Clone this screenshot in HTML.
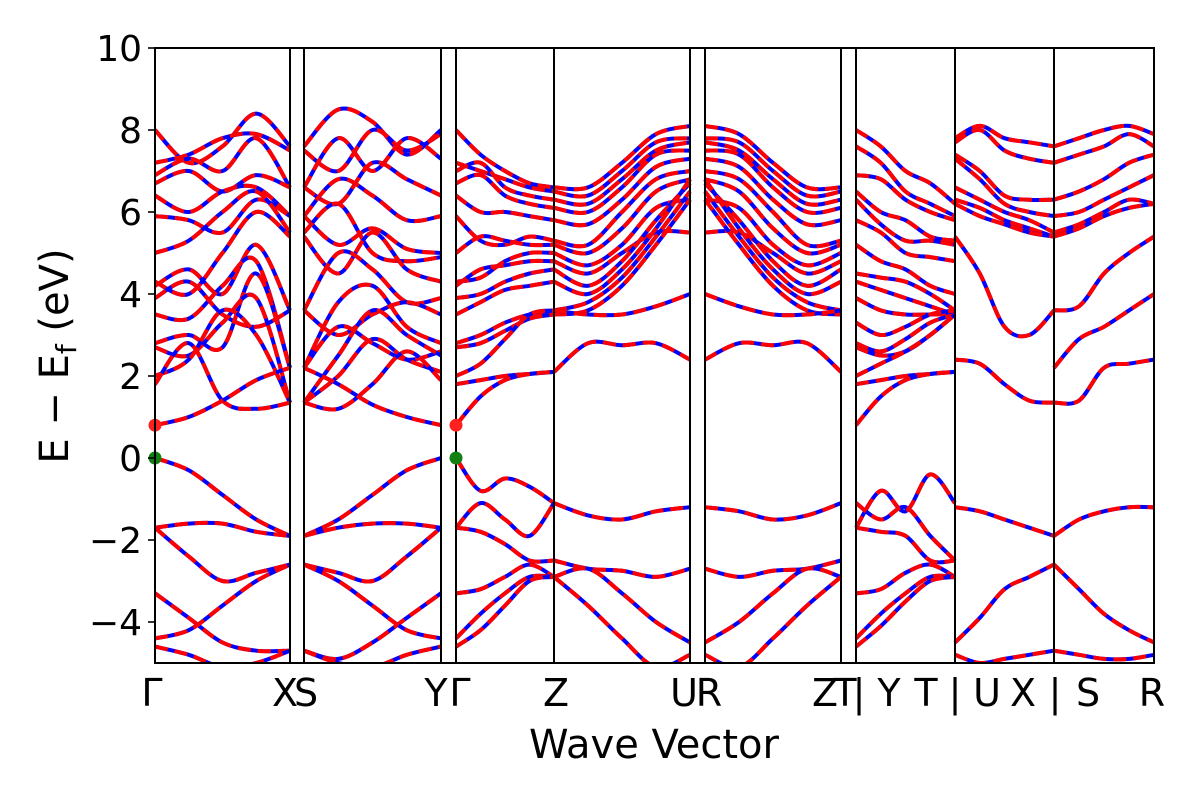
<!DOCTYPE html>
<html><head><meta charset="utf-8"><style>
body{margin:0;background:#fff;width:1200px;height:800px;overflow:hidden;font-family:"DejaVu Sans","Liberation Sans",sans-serif}
</style></head><body>
<svg id="chart" width="1200" height="800" xmlns="http://www.w3.org/2000/svg"></svg>
<script>
const yTicks=[10,8,6,4,2,0,-2,-4];
const yTickLabels=["10","8","6","4","2","0","\u22122","\u22124"];
const kLines=[155,290,304,441,456,554,690,705,841,856,955,1054,1154];
const kLabels=[["Γ",152],["X",285],["S",306],["Y",436],["Γ",460],["Z",556],["U",684],["R",709],["Z",825],["T",845],["|",859],["Y",889],["T",926],["|",955],["U",987],["X",1023],["|",1055],["S",1088],["R",1152]];
const segments=[[155,290],[304,441],[456,554],[554,690],[705,841],[856,955],[955,1054],[1054,1154]];
const bands0=[[8.0,7.2,7.6,8.4,7.6],[7.2,7.4,7.8,7.9,7.5],[6.9,7.3,7.0,7.8,6.6],[6.7,7.0,6.5,6.9,6.6],[6.4,6.0,6.5,6.6,5.9],[5.9,5.8,5.5,6.3,5.9],[5.0,5.3,6.0,6.5,5.5],[4.3,4.0,5.0,6.0,5.4],[4.2,4.6,4.0,5.2,3.6],[3.9,4.3,3.5,3.2,3.6],[3.5,3.4,4.2,4.8,2.2],[2.8,3.0,2.7,4.5,2.2],[2.7,2.5,3.3,3.9,1.35],[2.0,2.4,3.6,3.0,1.35],[1.8,2.8,1.4,1.2,1.35],[0.8,1.0,1.4,1.9,2.2],[0,-0.3,-0.9,-1.5,-1.9],[-1.7,-1.6,-1.6,-1.8,-1.9],[-1.7,-2.4,-3.0,-2.8,-2.6],[-3.3,-3.9,-4.5,-4.7,-4.7],[-4.4,-4.2,-3.6,-3.0,-2.6],[-4.6,-4.8,-5.1,-5.0,-4.7]];
const bands1=[[7.6,8.5,8.2,7.4,8.0],[7.5,7.0,8.0,7.5,7.9],[6.6,7.8,7.0,7.8,7.3],[6.6,6.2,7.2,6.8,6.4],[5.9,6.8,6.4,5.8,5.9],[5.9,5.2,5.6,5.1,5.0],[5.5,6.2,5.0,4.8,4.9],[5.4,4.5,5.5,4.6,4.3],[3.6,5.0,4.6,3.8,3.9],[3.6,3.0,3.5,3.8,3.5],[2.2,3.8,4.2,3.2,2.8],[2.2,3.2,2.8,2.4,2.6],[1.35,2.5,3.6,3.0,2.5],[1.35,2.0,2.9,2.4,2.1],[1.35,1.2,1.8,2.6,1.9],[2.2,1.8,1.3,1.0,0.8],[-1.9,-1.5,-0.9,-0.3,0],[-1.9,-1.7,-1.6,-1.6,-1.7],[-2.6,-2.8,-3.0,-2.4,-1.7],[-4.7,-4.9,-4.5,-3.9,-3.3],[-2.6,-3.0,-3.6,-4.2,-4.4],[-4.7,-5.0,-5.1,-4.8,-4.6]];
const bands2=[[8.0,7.4,7.0,6.7,6.6],[7.2,7.0,6.8,6.6,6.5],[7.0,7.2,6.6,6.4,6.3],[6.7,6.9,6.4,6.2,6.1],[6.4,6.0,6.0,5.9,5.8],[5.9,5.3,5.2,5.4,5.3],[5.0,5.4,5.3,5.2,5.2],[4.3,4.4,4.8,5.0,5.0],[4.2,4.6,4.7,4.8,4.8],[3.9,4.0,4.3,4.5,4.6],[3.5,3.8,4.1,4.2,4.3],[2.8,3.0,3.3,3.5,3.6],[2.7,2.8,3.1,3.4,3.5],[2.0,2.3,2.9,3.5,3.6],[1.8,1.9,2.0,2.05,2.1],[0.8,1.5,1.9,2.05,2.1],[0,-0.8,-0.5,-0.7,-1.1],[-1.7,-1.1,-1.5,-1.9,-1.1],[-1.7,-1.8,-2.1,-2.5,-2.5],[-3.3,-3.2,-2.9,-2.6,-2.9],[-4.4,-3.8,-3.3,-2.9,-2.9],[-4.6,-4.2,-3.6,-3.0,-2.9]];
const bands3=[[6.6,6.6,7.2,7.9,8.1],[6.5,6.4,7.0,7.7,7.8],[6.3,6.2,6.8,7.5,7.7],[6.1,6.0,6.6,7.4,7.5],[5.8,5.7,6.3,7.1,7.3],[5.3,5.2,6.0,6.8,7.0],[5.2,5.0,5.6,6.5,6.8],[5.0,4.7,5.2,6.1,6.3],[4.8,4.5,5.0,5.5,5.5],[4.6,4.2,4.8,5.8,6.7],[4.3,4.0,4.6,5.6,6.8],[3.6,3.8,4.4,5.4,6.5],[3.5,3.6,4.2,5.2,6.3],[3.6,3.5,3.5,3.7,4.0],[2.1,2.8,2.75,2.8,2.4],[-1.1,-1.4,-1.5,-1.3,-1.2],[-2.5,-2.7,-2.75,-2.9,-2.7],[-2.9,-2.7,-3.3,-4.0,-4.5],[-2.9,-3.6,-4.4,-5.1,-4.8]];
const bands4=bands3.map(b=>b.slice().reverse());
const bands5=[[8.0,7.6,7.0,6.7,6.2],[7.6,7.2,6.5,6.2,5.9],[6.9,6.8,6.3,6.0,5.8],[6.5,6.0,5.8,5.4,5.3],[6.3,5.7,5.3,5.3,5.2],[5.8,5.5,5.0,4.9,4.8],[5.2,4.8,4.6,4.2,4.0],[4.5,4.4,4.3,4.0,3.6],[4.3,4.1,3.9,3.7,3.5],[3.9,3.6,3.5,3.5,3.5],[3.3,3.0,3.2,3.5,3.6],[2.8,2.6,2.9,3.3,3.5],[2.7,2.5,2.6,3.0,3.5],[2.0,2.3,2.6,3.0,3.5],[1.8,1.9,2.0,2.05,2.1],[0.8,1.5,1.9,2.05,2.1],[-1.7,-0.8,-1.3,-0.4,-1.1],[-1.1,-1.5,-1.2,-1.9,-2.5],[-1.7,-1.8,-1.9,-2.5,-2.5],[-3.3,-3.2,-2.8,-2.6,-2.9],[-4.4,-3.8,-3.3,-2.9,-2.9],[-4.6,-4.1,-3.5,-3.0,-2.9]];
const bands6=[[7.8,8.1,7.8,7.7,7.6],[7.7,8.0,7.5,7.3,7.2],[7.4,7.0,6.4,6.3,6.3],[7.3,6.8,6.2,6.0,5.9],[6.6,6.3,6.0,5.8,5.5],[6.3,6.1,5.8,5.6,5.4],[6.2,5.9,5.7,5.5,5.4],[5.4,4.5,3.2,3.0,3.6],[2.4,2.3,1.8,1.4,1.35],[-1.2,-1.3,-1.5,-1.7,-1.9],[-4.5,-3.9,-3.2,-2.9,-2.6],[-4.8,-5.0,-4.9,-4.8,-4.7]];
const bands7=[[7.6,7.8,8.0,8.1,7.9],[7.2,7.4,7.6,7.9,7.6],[6.3,6.5,6.8,7.2,7.4],[5.9,6.0,6.3,6.6,6.9],[5.5,5.7,6.0,6.3,6.2],[5.4,5.6,5.9,6.1,6.2],[3.6,3.7,4.5,5.0,5.4],[2.2,2.9,3.2,3.6,4.0],[1.35,1.4,2.2,2.3,2.4],[-1.9,-1.5,-1.3,-1.2,-1.2],[-2.6,-3.2,-3.8,-4.2,-4.5],[-4.7,-4.8,-4.9,-4.9,-4.8]];
const bandSets=[bands0,bands1,bands2,bands3,bands4,bands5,bands6,bands7];

const NS="http://www.w3.org/2000/svg",svg=document.getElementById('chart');
const X0=155,X1=1154,Y0=48,Y1=663,EMIN=-5,EMAX=10;
const yS=e=>Y1-(e-EMIN)/(EMAX-EMIN)*(Y1-Y0);
function mk(t,a,p){const e=document.createElementNS(NS,t);for(const k in a)e.setAttribute(k,a[k]);(p||svg).appendChild(e);return e;}
const clip=mk('clipPath',{id:'pc'});mk('rect',{x:X0,y:Y0,width:X1-X0,height:Y1-Y0},clip);
const g=mk('g',{'clip-path':'url(#pc)'});


function pathFor(seg,vals){
  const n=vals.length,pts=vals.map((v,i)=>[seg[0]+(seg[1]-seg[0])*i/(n-1),yS(v)]);
  let d='M'+pts[0][0]+','+pts[0][1];
  for(let i=0;i<n-1;i++){const p0=pts[Math.max(0,i-1)],p1=pts[i],p2=pts[i+1],p3=pts[Math.min(n-1,i+2)];
    d+=' C'+(p1[0]+(p2[0]-p0[0])/6)+','+(p1[1]+(p2[1]-p0[1])/6)+' '+(p2[0]-(p3[0]-p1[0])/6)+','+(p2[1]-(p3[1]-p1[1])/6)+' '+p2[0]+','+p2[1];}
  return d;}
bandSets.forEach((set,si)=>set.forEach((b,bi)=>{
  const d=pathFor(segments[si],b);
  const bl=mk('path',{d:d,fill:'none',stroke:'#0000ff','stroke-width':4},g);
  
  
  const rd=mk('path',{d:d,fill:'none',stroke:'#ff0000','stroke-width':4,'stroke-dasharray':'13,7'},g);
  
  
}));
kLines.forEach(x=>{const l=mk('line',{x1:x,x2:x,y1:Y0,y2:Y1,stroke:'#000','stroke-width':2});
  });
[[155,0.8,'#ff2020'],[456,0.8,'#ff2020'],[155,0,'#138013'],[456,0,'#138013']].forEach(p=>{
  const c=mk('circle',{cx:p[0],cy:yS(p[1]),r:6.5,fill:p[2]});});
const fr=mk('rect',{x:X0,y:Y0,width:X1-X0,height:Y1-Y0,fill:'none',stroke:'#000','stroke-width':2});

yTicks.forEach((v,i)=>{mk('line',{x1:X0-7,x2:X0,y1:yS(v),y2:yS(v),stroke:'#000','stroke-width':1.6});
  const t=mk('text',{x:X0-13,y:yS(v)+13,'text-anchor':'end','font-size':36});t.textContent=yTickLabels[i];
  });
kLabels.forEach(k=>{const t=mk('text',{x:k[1],y:706,'text-anchor':'middle','font-size':38});t.textContent=k[0];
  });
const xt=mk('text',{x:654,y:758,'text-anchor':'middle','font-size':40});xt.textContent='Wave Vector';

const yt=mk('text',{x:0,y:0,'text-anchor':'middle','font-size':40,transform:'translate(68,356) rotate(-90)'});
yt.innerHTML='E \u2212 E<tspan font-size="28" dy="8">f</tspan><tspan dy="-8"> (eV)</tspan>';

</script>
</body></html>
